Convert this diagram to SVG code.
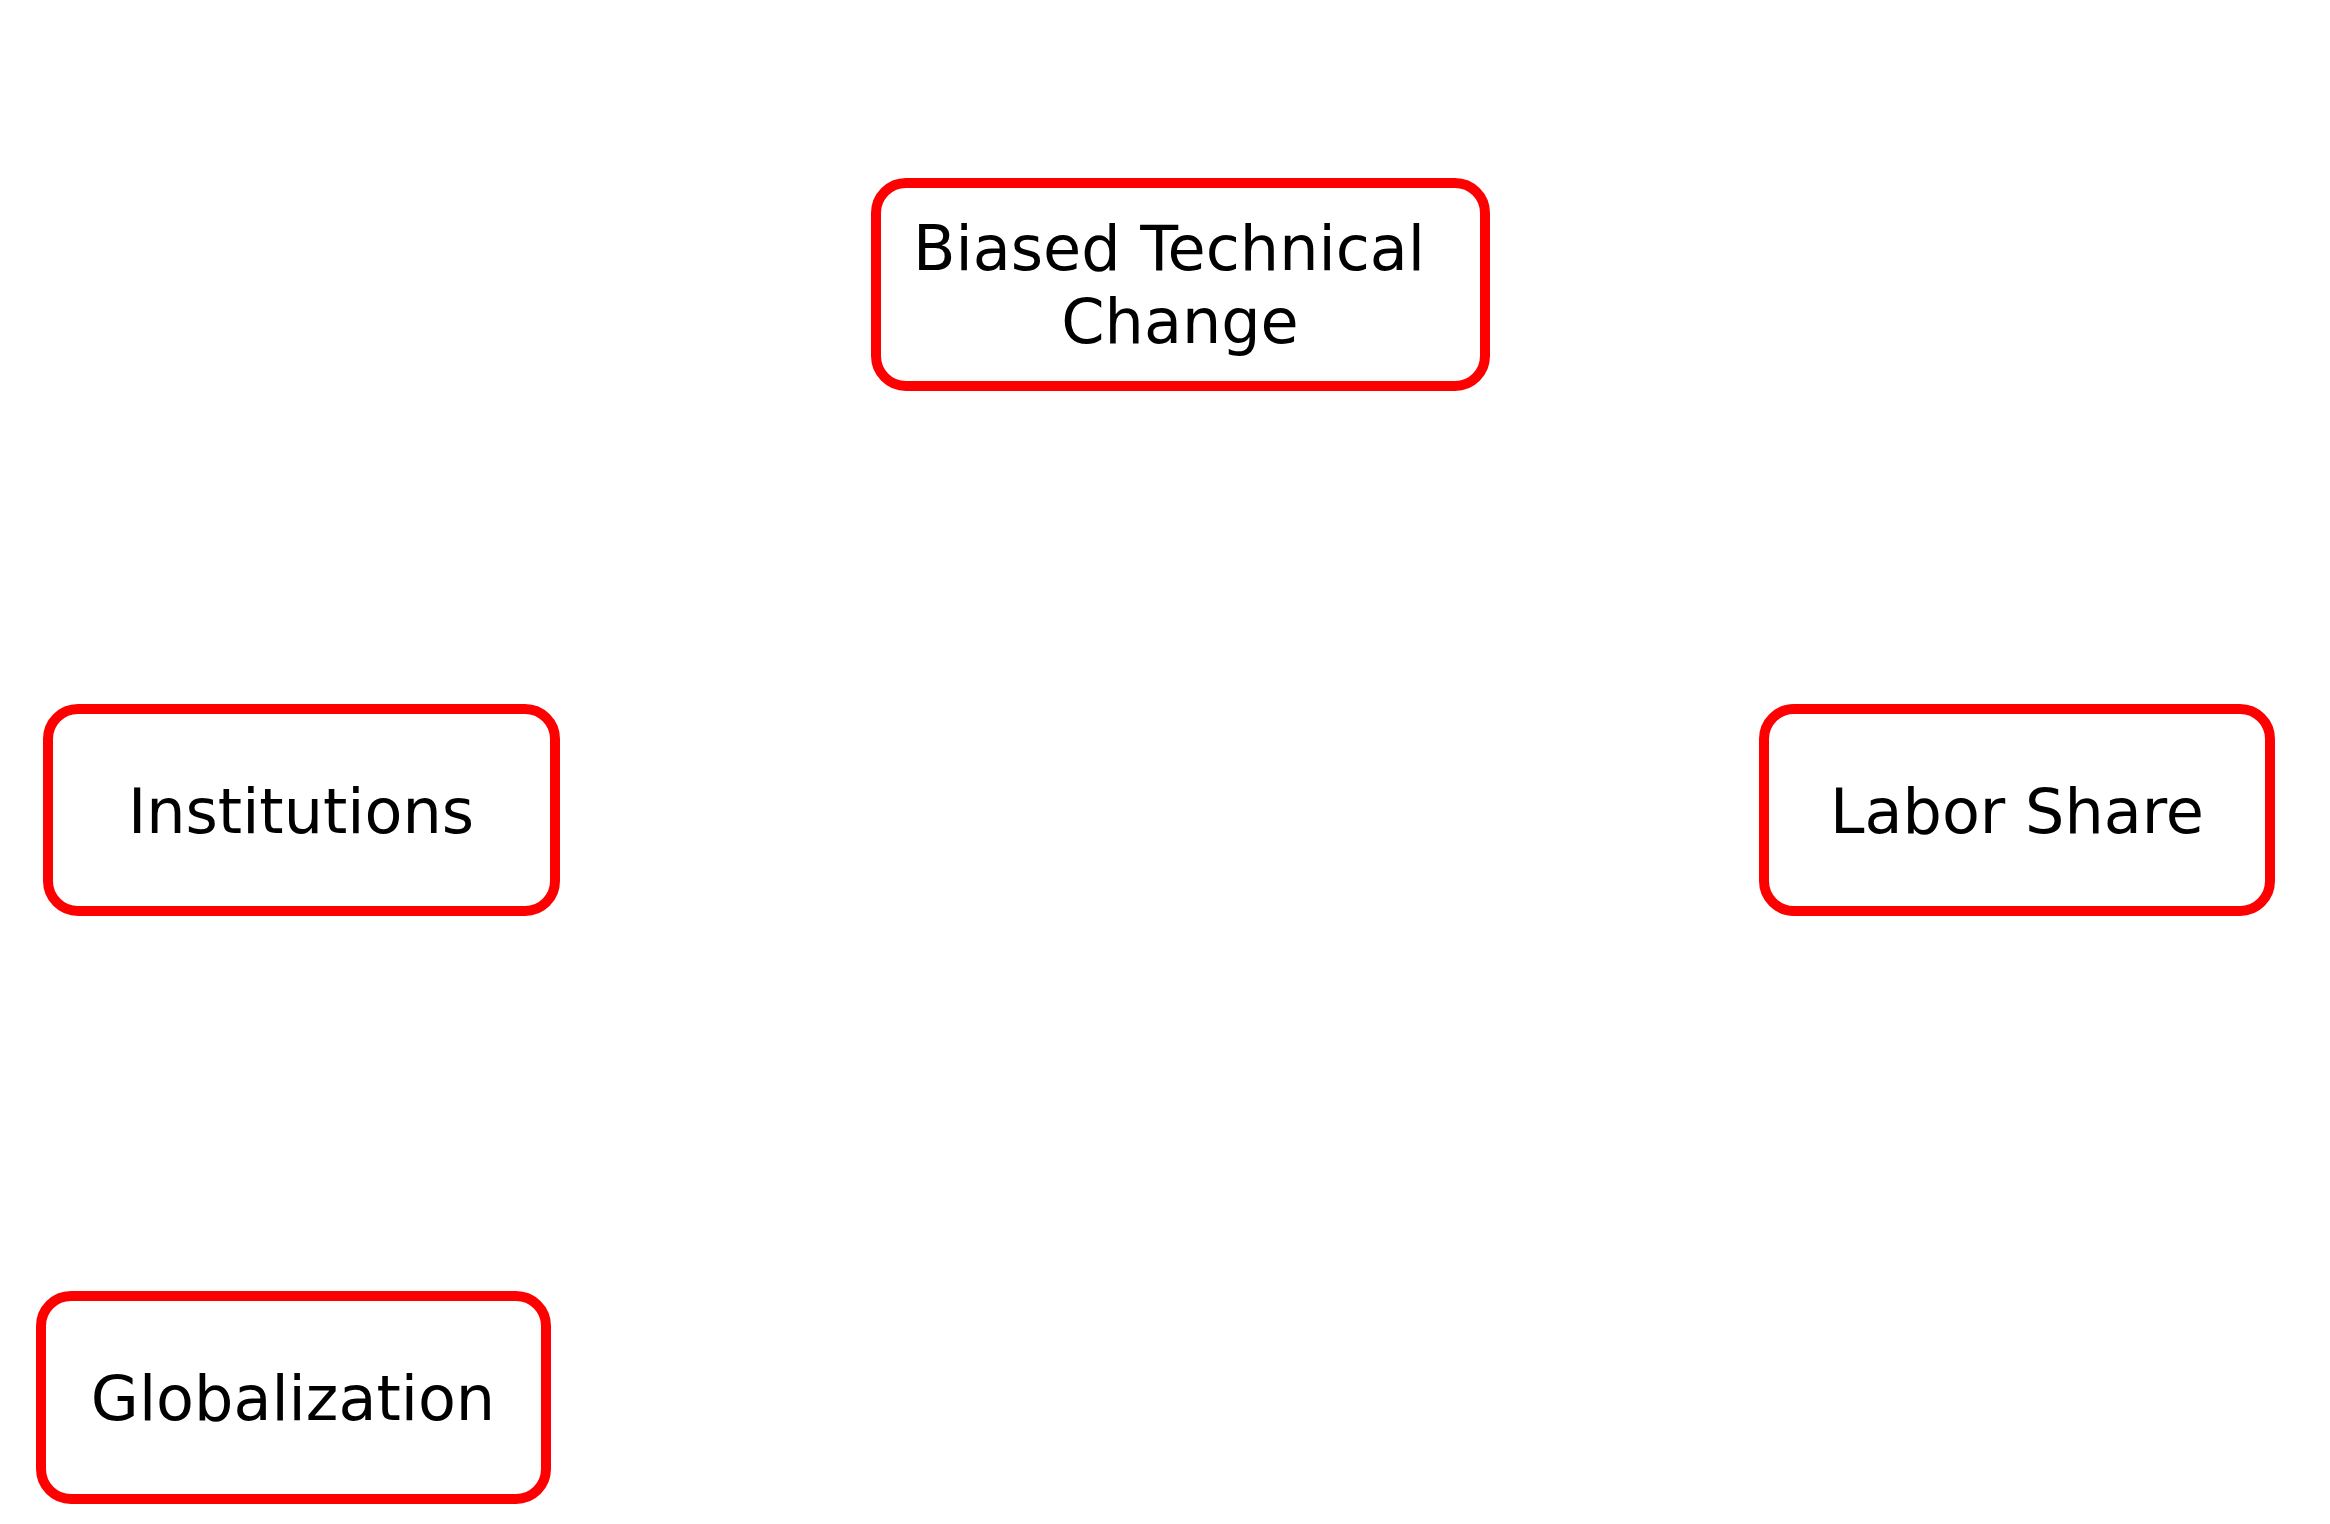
<svg xmlns="http://www.w3.org/2000/svg" width="2330" height="1524" viewBox="0 0 2330 1524">
<style>
.box{fill:#ffffff;stroke:#ff0000;stroke-width:10}
.lbl{font-family:"DejaVu Sans","Verdana",sans-serif;font-size:62px;fill:#000000;text-anchor:middle}
</style>
<rect width="2330" height="1524" fill="#ffffff"/>
<g id="connectors"></g>
<g id="biased-technical-change">
<rect class="box" x="876" y="183" width="609" height="203" rx="30" ry="30"/>
<text class="lbl" x="1169" y="270">Biased Technical</text>
<text class="lbl" x="1180" y="343">Change</text>
</g>
<g id="institutions">
<rect class="box" x="48" y="709" width="507" height="202" rx="30" ry="30"/>
<text class="lbl" x="301" y="833">Institutions</text>
</g>
<g id="labor-share">
<rect class="box" x="1764" y="709" width="506" height="202" rx="30" ry="30"/>
<text class="lbl" x="2017" y="833">Labor Share</text>
</g>
<g id="globalization">
<rect class="box" x="41" y="1296" width="505" height="203" rx="30" ry="30"/>
<text class="lbl" x="293" y="1420">Globalization</text>
</g>
</svg>
